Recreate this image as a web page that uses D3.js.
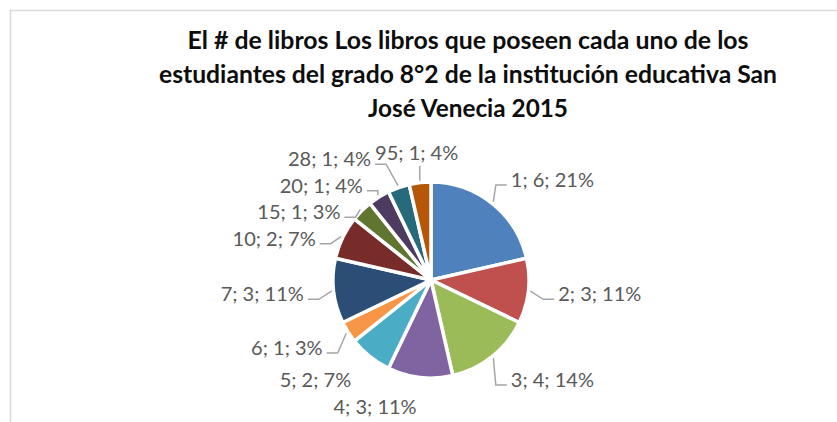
<!DOCTYPE html>
<html>
<head>
<meta charset="utf-8">
<script src="https://cdn.jsdelivr.net/npm/d3@7"></script>
<style>
  html, body { margin: 0; padding: 0; background: #fff; }
  svg { display: block; }
</style>
</head>
<body>
<svg id="chart" width="837" height="422"></svg>
<script>
// ---- data ----
const categories = ["1", "2", "3", "4", "5", "6", "7", "10", "15", "20", "28", "95"];
const counts     = [6, 3, 4, 3, 2, 1, 3, 2, 1, 1, 1, 1];
const pctLabels  = ["21%", "11%", "14%", "11%", "7%", "3%", "11%", "7%", "3%", "4%", "4%", "4%"];
const titleLines = [
  "El # de libros Los libros que poseen cada uno de los",
  "estudiantes del grado 8°2 de la institución educativa San",
  "José Venecia 2015"
];

// ---- styling / layout ----
const colors = ["#4f81bd", "#c0504d", "#9bbb59", "#8064a2", "#4bacc6", "#f79646",
                "#2c4d75", "#772c2a", "#5f7530", "#4d3b62", "#276a7c", "#b65708"];
const W = 837, H = 422;
const cx = 431, cy = 280, R = 98, labelR = 128;
const noLeader = new Set(["4", "5"]);
const labelFont = 20, capHalf = 7;

const svg = d3.select("#chart");

// chart frame (clipped by the window on right/bottom)
svg.append("rect")
  .attr("x", 10.5).attr("y", 10.5)
  .attr("width", W + 20).attr("height", H + 20)
  .attr("fill", "#fff")
  .attr("stroke", "#d9d9d9").attr("stroke-width", 1.5);

// title
const titleBase = [49, 83, 117];
const titleWidths = [561, 618, 200];
svg.append("g").selectAll("text").data(titleLines).join("text")
  .attr("x", 468)
  .attr("y", (d, i) => titleBase[i])
  .attr("text-anchor", "middle")
  .attr("font-family", "Lato, 'Open Sans', sans-serif")
  .attr("font-weight", "bold")
  .attr("font-size", 24)
  .attr("fill", "#0d0d0d")
  .attr("textLength", (d, i) => titleWidths[i])
  .attr("lengthAdjust", "spacingAndGlyphs")
  .text(d => d);

// pie
const data = categories.map((c, i) => ({ cat: c, value: counts[i], pct: pctLabels[i], color: colors[i] }));
const pie = d3.pie().value(d => d.value).sort(null);
const arcs = pie(data);
const arc = d3.arc().innerRadius(0).outerRadius(R);

const g = svg.append("g").attr("transform", `translate(${cx},${cy})`);
g.selectAll("path").data(arcs).join("path")
  .attr("d", arc)
  .attr("fill", d => d.data.color)
  .attr("stroke", "#fff")
  .attr("stroke-width", 3.5)
  .attr("stroke-linejoin", "miter");

// labels
const pt = (a, r) => [cx + r * Math.sin(a), cy - r * Math.cos(a)];
const labels = arcs.map(d => {
  const a = (d.startAngle + d.endAngle) / 2;
  const [x, y] = pt(a, labelR);
  const side = Math.cos(a) > 0.98 ? 0 : (Math.sin(a) > 0 ? 1 : -1);
  return { d, a, x, y, side, text: `${d.data.cat}; ${d.data.value}; ${d.data.pct}` };
});

const lblG = svg.append("g");
const texts = lblG.selectAll("text").data(labels).join("text")
  .attr("font-family", "Lato, 'Open Sans', sans-serif")
  .attr("font-size", labelFont)
  .attr("fill", "#595959")
  .attr("text-anchor", l => l.side === 0 ? "middle" : (l.side > 0 ? "start" : "end"))
  .text(l => l.text);
texts.each(function (l) { l.w = this.getComputedTextLength(); });

// resolve vertical overlaps on the left side (push downward)
const left = labels.filter(l => l.side < 0).sort((a, b) => a.y - b.y);
for (let i = 1; i < left.length; i++) {
  if (left[i].y < left[i - 1].y + 26.5) left[i].y = left[i - 1].y + 26.5;
}
// keep left labels clear of the top-centred label
labels.filter(l => l.side === 0).forEach(t => {
  const tLeft = t.x - t.w / 2;
  left.forEach(l => { if (Math.abs(l.y - t.y) < 20) l.x = Math.min(l.x, tLeft - 4); });
});

texts.attr("x", l => l.x).attr("y", l => l.y + capHalf);

// leader lines
const leaders = labels.filter(l => !noLeader.has(l.d.data.cat)).map(l => {
  const s = pt(l.a, R + 2);
  const base = l.y + capHalf;
  if (l.side === 0) return [s, [s[0], base + 6]];
  const end = [l.x - l.side * 4, base - 2];
  const elbow = [end[0] - l.side * 11, base - 2];
  return [s, elbow, end];
});
svg.append("g").selectAll("path").data(leaders).join("path")
  .attr("d", d3.line())
  .attr("fill", "none")
  .attr("stroke", "#a6a6a6")
  .attr("stroke-width", 1.5);
</script>
</body>
</html>
